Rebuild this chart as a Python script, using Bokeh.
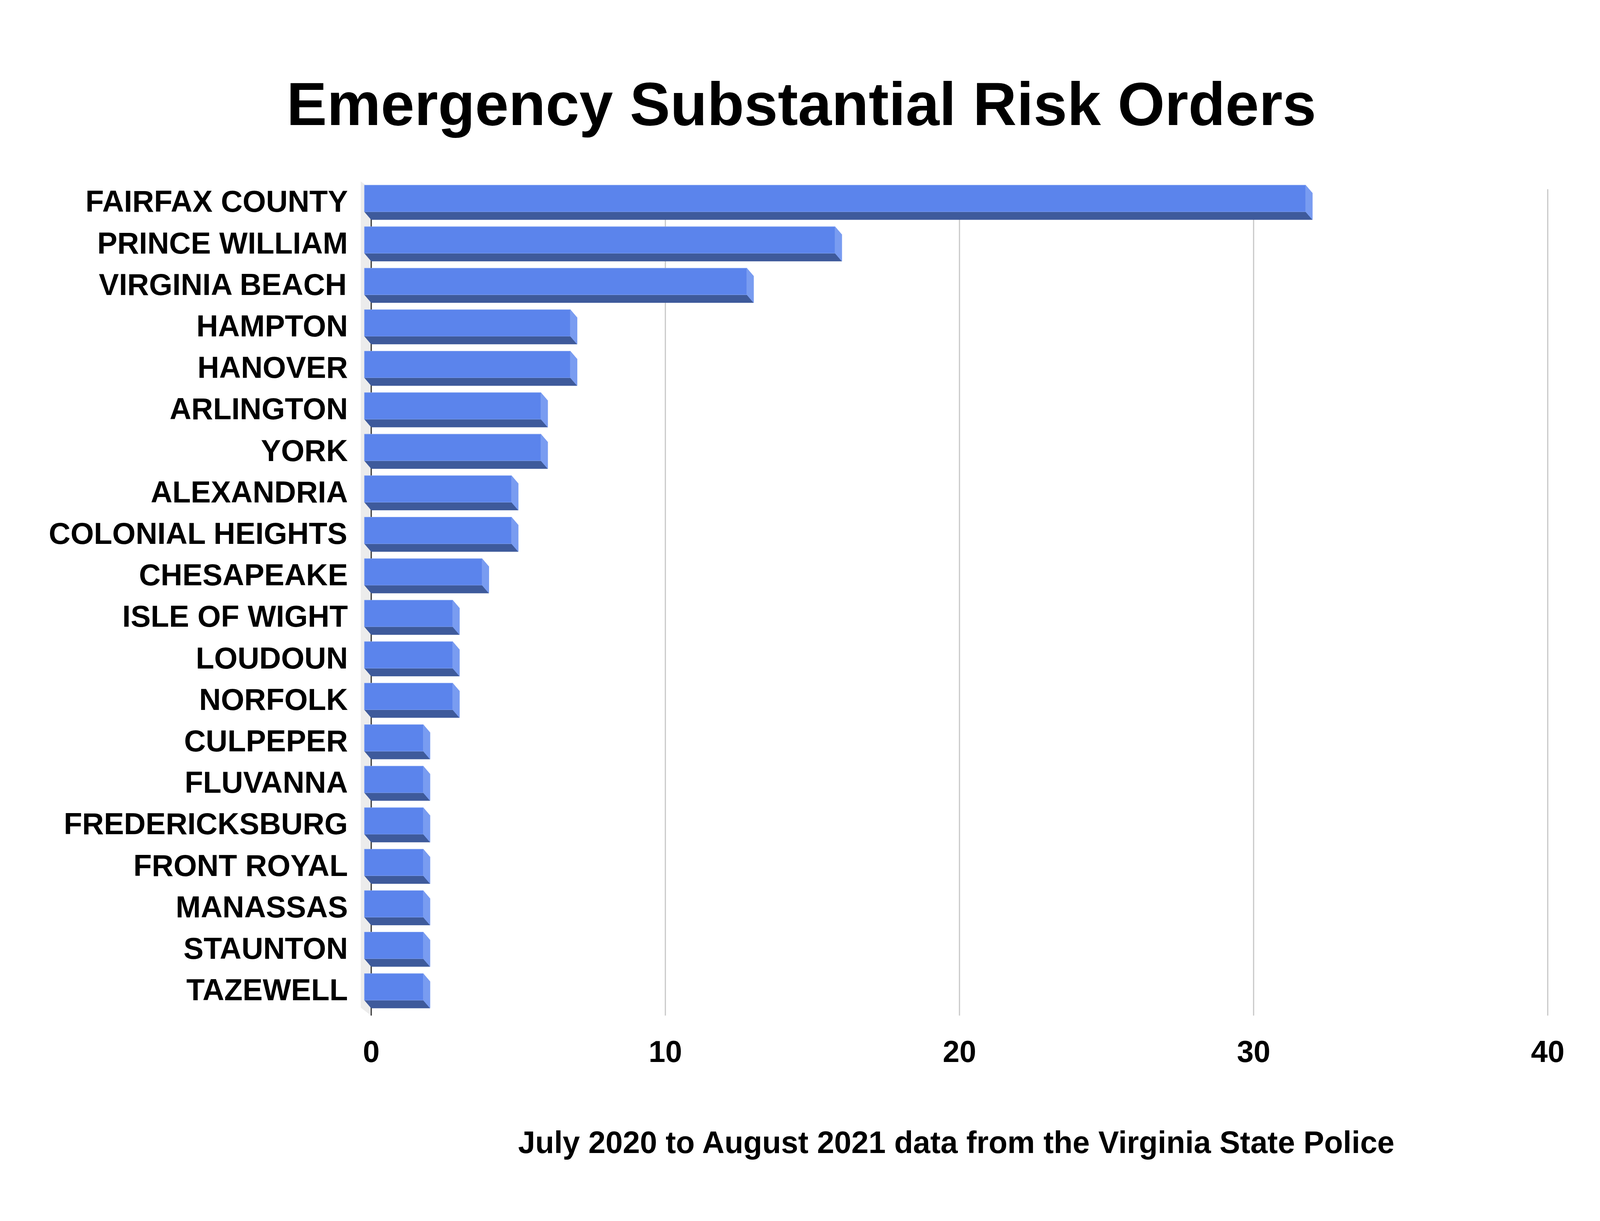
from bokeh.plotting import figure
from bokeh.models import Range1d, FixedTicker, ColumnDataSource
from bokeh.embed import file_html
from bokeh.resources import INLINE

# data
counties = ["FAIRFAX COUNTY", "PRINCE WILLIAM", "VIRGINIA BEACH", "HAMPTON", "HANOVER",
            "ARLINGTON", "YORK", "ALEXANDRIA", "COLONIAL HEIGHTS", "CHESAPEAKE",
            "ISLE OF WIGHT", "LOUDOUN", "NORFOLK", "CULPEPER", "FLUVANNA",
            "FREDERICKSBURG", "FRONT ROYAL", "MANASSAS", "STAUNTON", "TAZEWELL"]
orders = [32, 16, 13, 7, 7, 6, 6, 5, 5, 4, 3, 3, 3, 2, 2, 2, 2, 2, 2, 2]
x_ticks = [0, 10, 20, 30, 40]

TITLE = "Emergency Substantial Risk Orders"
SUBTITLE = "July 2020 to August 2021 data from the Virginia State Police"
FONT = "Liberation Sans"

# fake 3d geometry (data units)
DX = 0.23        # depth shift along x
DY = 0.19        # depth shift along y (rows)
H = 0.32         # half height of the front face
C = -0.07        # front face centre relative to the tick
WALL_DX = 0.356
Y_TOP = -0.292
Y_BOT = 19.62

FRONT = "#5b84ec"
BOTTOM = "#3e5a9b"
SIDE = "#799cf1"

rows = list(range(len(counties)))

front = ColumnDataSource(dict(
    left=[-DX] * len(orders),
    right=[v - DX for v in orders],
    top=[i + C - H for i in rows],
    bottom=[i + C + H for i in rows],
))
bottom_face = ColumnDataSource(dict(
    xs=[[-DX, v - DX, v, 0] for v in orders],
    ys=[[i + C + H, i + C + H, i + C + H + DY, i + C + H + DY] for i in rows],
))
side_face = ColumnDataSource(dict(
    xs=[[v - DX, v, v, v - DX] for v in orders],
    ys=[[i + C - H, i + C - H + DY, i + C + H + DY, i + C + H] for i in rows],
))

p = figure(width=4080, height=3109, output_backend="svg", toolbar_location=None,
           x_range=Range1d(-0.449, 40.27), y_range=Range1d(19.84, -0.78),
           min_border_left=916, min_border_right=98,
           min_border_top=432, min_border_bottom=487)
p.outline_line_color = None
p.grid.visible = False

# left wall
p.patch(x=[-WALL_DX, 0, 0, -WALL_DX], y=[Y_TOP - DY, Y_TOP, Y_BOT, Y_BOT - DY],
        fill_color="#ececec", line_color=None)

# gridlines on the back plane
p.segment(x0=x_ticks[1:], y0=[Y_TOP] * 4, x1=x_ticks[1:], y1=[Y_BOT] * 4,
          line_color="#c8c8c8", line_width=3)
p.segment(x0=[0], y0=[Y_TOP], x1=[0], y1=[Y_BOT], line_color="#333333", line_width=3)

# the bars
p.patches(xs="xs", ys="ys", source=bottom_face, fill_color=BOTTOM, line_color=BOTTOM, line_width=1)
p.patches(xs="xs", ys="ys", source=side_face, fill_color=SIDE, line_color=SIDE, line_width=1)
p.quad(left="left", right="right", top="top", bottom="bottom", source=front,
       fill_color=FRONT, line_color="#7d9ef0", line_width=1.2)

# title
p.title.text = TITLE
p.title.align = "left"
p.title.offset = -183
p.title.standoff = 160
p.title.text_font = FONT
p.title.text_font_style = "bold"
p.title.text_font_size = "155px"
p.title.text_color = "black"

# axes
p.yaxis.ticker = FixedTicker(ticks=rows)
p.yaxis.major_label_overrides = {i: c for i, c in enumerate(counties)}
p.yaxis.major_label_text_font = FONT
p.yaxis.major_label_text_font_style = "bold"
p.yaxis.major_label_text_font_size = "77px"
p.yaxis.major_label_text_color = "black"
p.yaxis.major_label_standoff = 20
p.yaxis.axis_line_color = None
p.yaxis.major_tick_line_color = None
p.yaxis.minor_tick_line_color = None

p.xaxis.ticker = FixedTicker(ticks=x_ticks)
p.xaxis.major_label_text_font = FONT
p.xaxis.major_label_text_font_style = "bold"
p.xaxis.major_label_text_font_size = "77px"
p.xaxis.major_label_text_color = "black"
p.xaxis.major_label_standoff = 35
p.xaxis.axis_line_color = None
p.xaxis.major_tick_line_color = None
p.xaxis.minor_tick_line_color = None
p.xaxis.axis_label = SUBTITLE
p.xaxis.axis_label_text_font = FONT
p.xaxis.axis_label_text_font_style = "bold"
p.xaxis.axis_label_text_font_size = "79px"
p.xaxis.axis_label_text_color = "black"
p.xaxis.axis_label_standoff = 158

open("out.html", "w").write(file_html(p, INLINE))
